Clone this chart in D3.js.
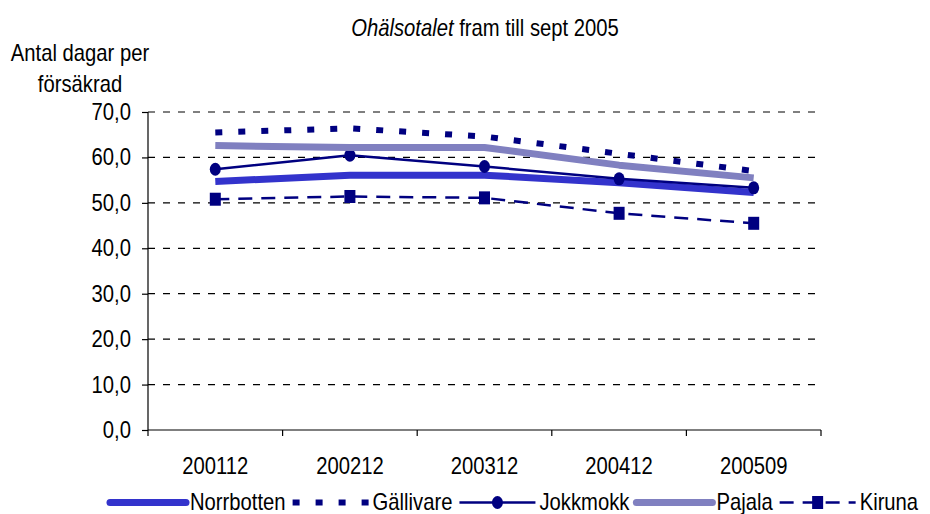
<!DOCTYPE html>
<html><head><meta charset="utf-8">
<script src="https://cdn.jsdelivr.net/npm/d3@7"></script>
<style>body{margin:0;background:#fff}svg{display:block}text{font-family:"Liberation Sans",Arial,sans-serif;fill:#000}</style>
</head><body>
<svg id="c" width="930" height="514"></svg>
<script>
const categories = ["200112","200212","200312","200412","200509"];
const norrbotten = [54.7, 56.1, 56.1, 54.4, 52.3];
const gallivare  = [65.5, 66.4, 64.6, 60.8, 57.0];
const jokkmokk   = [57.4, 60.5, 58.0, 55.3, 53.3];
const pajala     = [62.6, 62.2, 62.2, 58.3, 55.5];
const kiruna     = [50.8, 51.4, 51.1, 47.7, 45.5];
const yTicks = [0,10,20,30,40,50,60,70];
const seriesNames = ["Norrbotten","Gällivare","Jokkmokk","Pajala","Kiruna"];
const title1 = "Ohälsotalet", title2 = " fram till sept 2005";
const yLabel = ["Antal dagar per","försäkrad"];

const series = [
  {name:seriesNames[0], values:norrbotten, color:"#3333CC", width:7, dash:null, marker:null},
  {name:seriesNames[1], values:gallivare,  color:"#000080", width:6, dash:"7,16", marker:null},
  {name:seriesNames[2], values:jokkmokk,   color:"#000080", width:2.5, dash:null, marker:"circle"},
  {name:seriesNames[3], values:pajala,     color:"#8080C0", width:7, dash:null, marker:null},
  {name:seriesNames[4], values:kiruna,     color:"#000080", width:2.5, dash:"14,9", marker:"square"}
];

const SX = 0.88, FS = 23;
const svg = d3.select("#c");
const L = 148, R = 821, T = 112, B = 430;
const x = d3.scaleBand().domain(categories).range([L, R]).padding(0);
const y = d3.scaleLinear().domain([0,70]).range([B, T]);

function txt(g, xx, yy, anchor) {
  return g.append("text").attr("transform", `translate(${xx},${yy}) scale(${SX},1)`)
    .attr("text-anchor", anchor).style("font-size", FS + "px");
}

// gridlines
svg.append("g").selectAll("line").data(yTicks.filter(d => d > 0)).join("line")
  .attr("x1", L).attr("x2", R).attr("y1", d => y(d)).attr("y2", d => y(d))
  .attr("stroke", "#000").attr("stroke-width", 1.2).attr("stroke-dasharray", "7,8");

// y axis
const yAxis = svg.append("g").attr("transform", `translate(${L},0)`)
  .call(d3.axisLeft(y).tickValues(yTicks).tickSize(6).tickFormat(d => d3.format(".1f")(d).replace(".", ",")));
yAxis.select(".domain").attr("stroke", "#000").attr("stroke-width", 1.2).attr("d", `M0,${T}V${B}`);
yAxis.selectAll(".tick line").attr("stroke", "#000").attr("stroke-width", 1.2);
yAxis.selectAll(".tick text").remove();
yTicks.forEach(t => txt(svg, 131, y(t) + 8, "end").text(d3.format(".1f")(t).replace(".", ",")));

// x axis
const xg = svg.append("g").attr("transform", `translate(0,${B})`);
xg.append("line").attr("x1", L).attr("x2", R).attr("stroke", "#000").attr("stroke-width", 1.2);
const bounds = categories.map(c => x(c)).concat([R]);
xg.selectAll("line.tk").data(bounds).join("line").attr("class","tk")
  .attr("x1", d => d).attr("x2", d => d).attr("y1", 0).attr("y2", 6)
  .attr("stroke", "#000").attr("stroke-width", 1.2);
categories.forEach(c => txt(svg, x(c) + x.bandwidth()/2, 474, "middle").text(c));

// lines
const line = d3.line().x((d,i) => x(categories[i]) + x.bandwidth()/2).y(d => y(d));
series.forEach(s => {
  svg.append("path").datum(s.values).attr("d", line).attr("fill", "none")
    .attr("stroke", s.color).attr("stroke-width", s.width)
    .attr("stroke-dasharray", s.dash).attr("stroke-linejoin", "round");
  const cx = (d,i) => x(categories[i]) + x.bandwidth()/2;
  if (s.marker === "circle") {
    svg.append("g").selectAll("ellipse").data(s.values).join("ellipse")
      .attr("cx", cx).attr("cy", d => y(d)).attr("rx", 5.5).attr("ry", 6.5).attr("fill", s.color);
  } else if (s.marker === "square") {
    svg.append("g").selectAll("rect").data(s.values).join("rect")
      .attr("x", (d,i) => cx(d,i) - 5.5).attr("y", d => y(d) - 6.5)
      .attr("width", 11).attr("height", 13).attr("fill", s.color);
  }
});

// title
const tt = txt(svg, 485, 36, "middle");
tt.append("tspan").style("font-style", "italic").text(title1);
tt.append("tspan").text(title2);

// y label
txt(svg, 80, 61, "middle").text(yLabel[0]);
txt(svg, 80, 92, "middle").text(yLabel[1]);

// legend
let lx = 110;
const ly = 502.5;
series.forEach(s => {
  const g = svg.append("g");
  const lineLen = 76;
  g.append("line").attr("x1", lx).attr("x2", lx + lineLen).attr("y1", ly).attr("y2", ly)
    .attr("stroke", s.color).attr("stroke-width", s.width).attr("stroke-dasharray", s.dash)
    .attr("stroke-linecap", s.dash ? "butt" : (s.width > 5 ? "round" : "butt"));
  const mx = lx + lineLen/2;
  if (s.marker === "circle") g.append("ellipse").attr("cx", mx).attr("cy", ly).attr("rx", 5.5).attr("ry", 6.5).attr("fill", s.color);
  if (s.marker === "square") g.append("rect").attr("x", mx - 5.5).attr("y", ly - 6.5).attr("width", 11).attr("height", 13).attr("fill", s.color);
  const t = txt(g, lx + lineLen + 4, 510, "start").text(s.name);
  const w = t.node().getComputedTextLength() * SX;
  lx += lineLen + 4 + w + 7;
});
</script>
</body></html>
